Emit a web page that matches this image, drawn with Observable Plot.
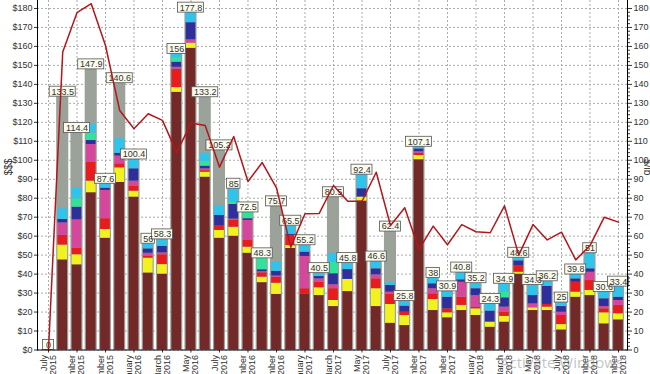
<!DOCTYPE html>
<html><head><meta charset="utf-8">
<script src="https://cdn.jsdelivr.net/npm/d3@7"></script>
<script src="https://cdn.jsdelivr.net/npm/@observablehq/plot@0.6"></script>
<style>
body{margin:0;background:#fff;}
#wrap{position:relative;width:650px;height:374px;overflow:hidden;background:#fff;}
#wm{position:absolute;left:500px;top:352px;font:15px "Open Sans",sans-serif;color:rgba(120,120,120,0.45);white-space:nowrap;}
</style></head><body>
<div id="wrap"><div id="chart"></div><div id="wm">Activate Windows</div></div>
<script>
const months = ["2015-07","2015-08","2015-09","2015-10","2015-11","2015-12",
"2016-01","2016-02","2016-03","2016-04","2016-05","2016-06","2016-07","2016-08","2016-09","2016-10","2016-11","2016-12",
"2017-01","2017-02","2017-03","2017-04","2017-05","2017-06","2017-07","2017-08","2017-09","2017-10","2017-11","2017-12",
"2018-01","2018-02","2018-03","2018-04","2018-05","2018-06","2018-07","2018-08","2018-09","2018-10","2018-11"];
const tickMonths = ["2015-07","2015-09","2015-11","2016-01","2016-03","2016-05","2016-07","2016-09","2016-11",
"2017-01","2017-03","2017-05","2017-07","2017-09","2017-11","2018-01","2018-03","2018-05","2018-07","2018-09","2018-11"];
const tickLabels = ["July\n2015","September\n2015","November\n2015","January\n2016","March\n2016","May\n2016","July\n2016","September\n2016","November\n2016",
"January\n2017","March\n2017","May\n2017","July\n2017","September\n2017","November\n2017","January\n2018","March\n2018","May\n2018","July\n2018","September\n2018","November\n2018"];
const yTicks = [0,10,20,30,40,50,60,70,80,90,100,110,120,130,140,150,160,170,180];

// Totals (grey bars, labelled)
const totals = [0,133.5,114.4,147.9,87.6,140.6,100.4,56,58.3,156,177.8,133.2,105.2,85,72.5,48.3,75.7,65.5,55.2,40.5,80.5,45.8,92.4,46.6,62.4,25.8,107.1,38,30.9,40.8,35.2,24.3,34.9,48.6,34.3,36.2,25,39.8,51,30.6,33.4];
// Stacked series (bottom to top)
const s1 = [0,47.5,44.9,82.9,58.9,88.3,80.6,40.6,40,135.8,159,91.1,58.9,60,51,35.5,29.3,53.5,29.3,28.7,22.9,30.8,78.5,22.9,14.1,12.9,100.3,20.8,17,20.8,18.2,12,14.7,40,20.8,20.8,10.6,27.8,28.7,13.8,15.9];
const s2 = [0,7.8,5.3,6.1,4.6,7.7,3.1,7.8,5,2.5,2.7,2.6,4.1,4.7,3.2,2.9,5.9,1.5,0,4.1,3.2,6.4,2.1,9.4,9.9,5.3,2.2,5.8,2.6,2.7,3.5,2.7,3,1,1.4,1.8,2.8,2.7,2.7,5.8,3.2];
const s3 = [0,5.1,3.5,10,5.7,2.1,2.5,0.9,5.2,9.7,0,0.8,2.6,3.6,3.5,2.3,3.2,5.4,3,2.9,6.2,0,0,5.2,5.3,1.7,1.2,3,2.1,4.3,0.9,0,2.2,3.5,0,1.4,4.8,5.2,5.2,2.1,4.4];
const s4 = [0,6.6,14.9,9.3,14.9,4.1,2.8,1.7,1,1,1.8,1,0,0.7,10.6,0.6,0.6,0,17,1.8,2.1,0,0,2.1,1.2,0,0.8,2.7,0,7.9,6.1,0,2.7,0,2.1,0,1.7,0,4.4,1.2,2.6];
const s5 = [0,1.8,6.7,2.1,1.2,1.5,6.5,2.3,3.4,2.7,9,1.4,5.3,7.7,0.9,1,2.5,0.6,2.3,1.2,5.8,5.2,4.4,3.2,3.5,3.2,1.5,2.6,6.1,1.3,3.6,5.8,4.9,2.5,4.4,9.5,3,1.8,1.8,4.1,1.7];
const s6 = [0,0,4.4,3.9,0,0,0,0,0,2.3,0,2.5,0,1.2,3.3,6,0,0,0,0,6.1,0,0,0,0,0,0,0,0,0,0,0,3,0,0,0,0,0,0,0,0];
const s7 = [0,5.6,5.6,4.6,2.3,7.6,4.9,2.7,3.7,2,5.3,4.3,5.3,7.1,0,0,4.8,4.1,3.6,1.8,4.7,3.4,7.4,3.8,1.4,2.7,1.1,3.1,3.1,3.8,2.9,3.8,4.4,1.6,5.6,2.7,2.1,2.3,8.2,3.6,5.6];
const seriesNames = ["S1","S2","S3","S4","S5","S6","S7"];
const seriesColors = ["#742929","#f2f21e","#e81c1c","#d4479c","#2f2f9c","#2fe49a","#2ec4ec"];
// Line (right axis)
const lineValues = [0,157,177.8,182.5,160.5,126.2,116.6,124.5,121,104,119.6,118.3,96.4,112.5,88.8,98.8,85.5,54.2,71.8,72,86.7,78.4,78.4,93.7,65.6,75,53,65.3,55.5,66.1,62.3,61.8,76,50,66.1,58,62.1,47.5,55,70,67.4];

const seriesValues = [s1,s2,s3,s4,s5,s6,s7];
const stackData = months.flatMap((m,i) => seriesNames.map((s,k) => ({month:m, series:s, value:seriesValues[k][i]})));
const totalData = months.map((m,i) => ({month:m, total:totals[i], label:String(totals[i])}));
const lineData = months.map((m,i) => ({month:m, v:lineValues[i]}));
const labelOf = new Map(tickMonths.map((m,i)=>[m, tickLabels[i]]));
const minorTicks = d3.range(0,182,2).filter(d => d % 10 !== 0);

const font = "Liberation Sans, Arial, sans-serif";
const bandW = 12.1;
function boxWidth(s){ let w = 0; for (const c of s) w += (c === ".") ? 2.5 : 5; return Math.max(11, w + 3.5); }
const lens = [...new Set(totalData.map(d => d.label))];
const boxMarks = lens.map(L => {
  const inset = -(boxWidth(L) - bandW)/2;
  return Plot.barY(totalData.filter(d => d.label === L), {x:"month", y1:"total", y2:"total", insetTop:-10, insetBottom:0, insetLeft:inset, insetRight:inset, fill:"#fbfbee", stroke:"#555", strokeWidth:0.8});
});

const chart = Plot.plot({
  width:650, height:374,
  marginLeft:37, marginRight:23, marginTop:0, marginBottom:24.5,
  style:{fontFamily:font, fontSize:"9px", color:"#333", background:"#fff"},
  x:{type:"band", domain:months, paddingInner:0.15, paddingOuter:0.276, align:0.625, round:false},
  y:{domain:[0,184.2]},
  color:{domain:seriesNames, range:seriesColors},
  marks:[
    Plot.gridY({ticks:yTicks, stroke:"#aaa", strokeOpacity:1, strokeDasharray:"2,2"}),
    Plot.gridX({ticks:tickMonths, stroke:"#aaa", strokeOpacity:1, strokeDasharray:"2,2"}),
    Plot.barY(totalData, {x:"month", y:"total", fill:"#9aa29a"}),
    Plot.barY(stackData, {x:"month", y:"value", fill:"series", insetLeft:1.2, insetRight:1.2}),
    ...boxMarks,
    Plot.text(totalData, {x:"month", y:"total", text:"label", dy:-5, fontSize:9, fill:"#333"}),
    Plot.line(lineData, {x:"month", y:"v", stroke:"#b3161b", strokeWidth:1.5}),
    Plot.axisY({ticks:yTicks, tickFormat:d => "$" + d, tickSize:3, tickPadding:2, fontSize:9, label:null}),
    Plot.axisY({anchor:"right", ticks:yTicks, tickSize:4, tickPadding:2, fontSize:9, label:null}),
    Plot.axisY({anchor:"right", ticks:minorTicks, tickSize:2, tickFormat:() => "", label:null}),
    Plot.axisX({ticks:tickMonths, tickFormat:d => labelOf.get(d), tickRotate:-90, tickSize:3, tickPadding:2, fontSize:9, label:null}),
    Plot.frame({anchor:"left", stroke:"#000"}),
    Plot.frame({anchor:"right", stroke:"#000"}),
    Plot.frame({anchor:"bottom", stroke:"#000"}),
    Plot.text(["$$$"], {frameAnchor:"left", dx:-29, rotate:-90, fontSize:10, fill:"#333"}),
    Plot.text(["$/lb"], {frameAnchor:"right", dx:20, rotate:90, fontSize:10, fill:"#333"})
  ]
});
document.getElementById("chart").appendChild(chart);
</script>
</body></html>
